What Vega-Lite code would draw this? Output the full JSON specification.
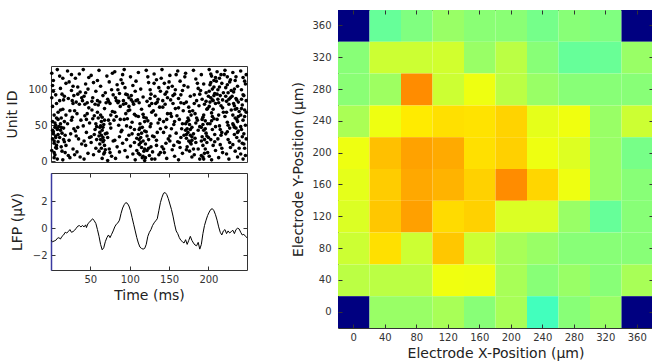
{
  "$schema": "https://vega.github.io/schema/vega-lite/v6.json",
  "padding": {"left": 5, "top": 9, "right": 0, "bottom": 0},
  "spacing": 41,
  "config": {
    "font": "DejaVu Sans",
    "view": {"stroke": "#333333", "strokeWidth": 1},
    "axis": {
      "grid": false,
      "domain": false,
      "labelFont": "DejaVu Sans",
      "labelFontSize": 10,
      "labelColor": "#333333",
      "titleFont": "DejaVu Sans",
      "titleFontSize": 14,
      "titleFontWeight": "normal",
      "titleColor": "#222222",
      "tickColor": "#333333",
      "tickSize": -4,
      "labelPadding": 8
    }
  },
  "datasets": {
    "spikes": [
      {"t":1,"u":122},{"t":2,"u":105},{"t":1,"u":88},{"t":3,"u":97},{"t":2,"u":76},{"t":4,"u":64},{"t":2,"u":55},{"t":5,"u":47},{"t":3,"u":41},{"t":6,"u":35},{"t":4,"u":28},{"t":7,"u":22},{"t":1,"u":15},{"t":5,"u":9},{"t":8,"u":3},{"t":3,"u":112},{"t":7,"u":80},{"t":9,"u":58},{"t":6,"u":50},{"t":8,"u":44},{"t":9,"u":37},{"t":2,"u":31},{"t":7,"u":18},{"t":4,"u":5},{"t":9,"u":68},{"t":6,"u":92},{"t":8,"u":127},
      {"t":4,"u":25},{"t":6,"u":33},{"t":3,"u":38},{"t":8,"u":46},{"t":5,"u":53},{"t":7,"u":60},{"t":2,"u":43},{"t":9,"u":27},{"t":6,"u":19},{"t":4,"u":12},
      {"t":11,"u":118},{"t":12,"u":101},{"t":14,"u":93},{"t":11,"u":84},{"t":15,"u":72},{"t":13,"u":60},{"t":12,"u":52},{"t":16,"u":46},{"t":14,"u":39},{"t":11,"u":33},{"t":17,"u":27},{"t":13,"u":20},{"t":18,"u":12},{"t":15,"u":2},{"t":19,"u":108},{"t":16,"u":85},{"t":19,"u":64},{"t":12,"u":43},{"t":18,"u":36},{"t":10,"u":48},{"t":17,"u":55},{"t":14,"u":14},
      {"t":13,"u":47},{"t":16,"u":30},{"t":19,"u":22},{"t":12,"u":71},{"t":17,"u":90},{"t":15,"u":115},
      {"t":21,"u":125},{"t":23,"u":110},{"t":26,"u":98},{"t":22,"u":87},{"t":28,"u":80},{"t":24,"u":70},{"t":27,"u":61},{"t":21,"u":52},{"t":29,"u":45},{"t":25,"u":38},{"t":23,"u":29},{"t":28,"u":17},{"t":22,"u":8},{"t":26,"u":120},{"t":29,"u":91},{"t":24,"u":5},
      {"t":27,"u":84},{"t":32,"u":35},{"t":34,"u":93},{"t":26,"u":57},{"t":30,"u":9},{"t":28,"u":104},
      {"t":31,"u":115},{"t":34,"u":103},{"t":37,"u":96},{"t":32,"u":82},{"t":36,"u":79},{"t":33,"u":66},{"t":38,"u":57},{"t":31,"u":42},{"t":35,"u":31},{"t":39,"u":24},{"t":33,"u":13},{"t":37,"u":6},{"t":36,"u":121},{"t":39,"u":88},{"t":30,"u":70},{"t":34,"u":47},
      {"t":41,"u":127},{"t":44,"u":107},{"t":47,"u":100},{"t":42,"u":90},{"t":46,"u":81},{"t":48,"u":74},{"t":43,"u":63},{"t":41,"u":49},{"t":45,"u":40},{"t":49,"u":33},{"t":44,"u":22},{"t":47,"u":11},{"t":42,"u":3},{"t":48,"u":116},{"t":40,"u":84},{"t":45,"u":58},
      {"t":43,"u":79},{"t":46,"u":66},{"t":49,"u":53},{"t":44,"u":95},{"t":42,"u":28},
      {"t":51,"u":119},{"t":54,"u":109},{"t":57,"u":97},{"t":52,"u":83},{"t":56,"u":79},{"t":59,"u":68},{"t":53,"u":59},{"t":58,"u":48},{"t":55,"u":37},{"t":51,"u":26},{"t":57,"u":18},{"t":54,"u":9},{"t":59,"u":112},{"t":52,"u":71},{"t":56,"u":44},{"t":58,"u":30},
      {"t":53,"u":88},{"t":55,"u":63},{"t":57,"u":52},{"t":51,"u":34},{"t":59,"u":84},
      {"t":61,"u":126},{"t":63,"u":104},{"t":66,"u":91},{"t":62,"u":82},{"t":68,"u":73},{"t":60,"u":60},{"t":64,"u":55},{"t":67,"u":51},{"t":62,"u":47},{"t":65,"u":43},{"t":69,"u":38},{"t":61,"u":35},{"t":63,"u":30},{"t":66,"u":27},{"t":68,"u":22},{"t":64,"u":18},{"t":61,"u":14},{"t":67,"u":10},{"t":65,"u":4},{"t":69,"u":95},{"t":60,"u":78},{"t":63,"u":64},{"t":66,"u":33},{"t":62,"u":24},{"t":68,"u":12},
      {"t":62,"u":40},{"t":64,"u":36},{"t":66,"u":47},{"t":68,"u":57},{"t":63,"u":49},{"t":65,"u":61},{"t":67,"u":29},{"t":69,"u":16},
      {"t":71,"u":118},{"t":74,"u":110},{"t":77,"u":99},{"t":72,"u":86},{"t":75,"u":80},{"t":78,"u":69},{"t":73,"u":57},{"t":76,"u":46},{"t":71,"u":39},{"t":79,"u":28},{"t":74,"u":17},{"t":77,"u":7},{"t":72,"u":1},{"t":78,"u":122},{"t":70,"u":81},{"t":75,"u":52},
      {"t":73,"u":83},{"t":76,"u":64},{"t":79,"u":92},{"t":72,"u":33},{"t":75,"u":12},
      {"t":81,"u":124},{"t":84,"u":106},{"t":87,"u":94},{"t":82,"u":88},{"t":85,"u":81},{"t":88,"u":76},{"t":83,"u":62},{"t":86,"u":50},{"t":89,"u":41},{"t":81,"u":29},{"t":84,"u":20},{"t":87,"u":13},{"t":82,"u":4},{"t":89,"u":113},{"t":86,"u":83},{"t":80,"u":57},
      {"t":83,"u":84},{"t":85,"u":99},{"t":88,"u":58},{"t":81,"u":68},{"t":87,"u":34},
      {"t":91,"u":120},{"t":94,"u":102},{"t":97,"u":92},{"t":92,"u":84},{"t":95,"u":80},{"t":98,"u":70},{"t":93,"u":58},{"t":96,"u":49},{"t":99,"u":36},{"t":91,"u":25},{"t":94,"u":15},{"t":97,"u":6},{"t":93,"u":127},{"t":99,"u":88},{"t":90,"u":43},{"t":95,"u":66},
      {"t":92,"u":79},{"t":95,"u":93},{"t":97,"u":59},{"t":99,"u":76},{"t":91,"u":108},{"t":96,"u":30},
      {"t":101,"u":117},{"t":104,"u":105},{"t":107,"u":97},{"t":102,"u":85},{"t":105,"u":79},{"t":108,"u":63},{"t":103,"u":54},{"t":106,"u":44},{"t":109,"u":32},{"t":101,"u":21},{"t":104,"u":10},{"t":107,"u":2},{"t":100,"u":71},{"t":108,"u":111},{"t":103,"u":38},{"t":106,"u":26},
      {"t":102,"u":91},{"t":104,"u":82},{"t":106,"u":65},{"t":108,"u":84},{"t":101,"u":47},{"t":109,"u":15},
      {"t":111,"u":123},{"t":114,"u":100},{"t":117,"u":89},{"t":112,"u":81},{"t":115,"u":72},{"t":118,"u":61},{"t":113,"u":52},{"t":116,"u":47},{"t":119,"u":42},{"t":111,"u":37},{"t":114,"u":33},{"t":117,"u":28},{"t":112,"u":23},{"t":115,"u":19},{"t":118,"u":14},{"t":113,"u":9},{"t":116,"u":5},{"t":119,"u":1},{"t":110,"u":85},{"t":117,"u":65},{"t":112,"u":44},{"t":114,"u":26},{"t":119,"u":17},{"t":111,"u":11},
      {"t":112,"u":30},{"t":115,"u":39},{"t":117,"u":7},{"t":113,"u":46},{"t":119,"u":55},{"t":111,"u":62},
      {"t":121,"u":126},{"t":124,"u":109},{"t":127,"u":93},{"t":122,"u":83},{"t":125,"u":77},{"t":128,"u":68},{"t":123,"u":56},{"t":126,"u":48},{"t":121,"u":41},{"t":129,"u":35},{"t":124,"u":30},{"t":120,"u":24},{"t":127,"u":20},{"t":122,"u":15},{"t":125,"u":8},{"t":128,"u":3},{"t":123,"u":117},{"t":126,"u":87},{"t":121,"u":60},{"t":129,"u":13},
      {"t":122,"u":35},{"t":124,"u":18},{"t":127,"u":52},{"t":128,"u":80},{"t":126,"u":99},{"t":120,"u":5},
      {"t":131,"u":121},{"t":134,"u":113},{"t":137,"u":102},{"t":132,"u":90},{"t":135,"u":82},{"t":138,"u":75},{"t":133,"u":64},{"t":136,"u":53},{"t":139,"u":45},{"t":131,"u":34},{"t":134,"u":22},{"t":137,"u":9},{"t":132,"u":3},{"t":139,"u":97},{"t":130,"u":70},{"t":135,"u":40},
      {"t":133,"u":80},{"t":136,"u":86},{"t":138,"u":58},{"t":131,"u":108},{"t":134,"u":29},{"t":139,"u":12},
      {"t":141,"u":127},{"t":144,"u":108},{"t":147,"u":96},{"t":142,"u":84},{"t":145,"u":79},{"t":148,"u":66},{"t":143,"u":55},{"t":146,"u":47},{"t":149,"u":31},{"t":141,"u":20},{"t":144,"u":12},{"t":147,"u":4},{"t":140,"u":115},{"t":148,"u":88},{"t":143,"u":40},{"t":146,"u":25},
      {"t":142,"u":75},{"t":145,"u":93},{"t":147,"u":58},{"t":149,"u":102},{"t":143,"u":17},
      {"t":151,"u":119},{"t":154,"u":104},{"t":157,"u":93},{"t":152,"u":85},{"t":155,"u":80},{"t":158,"u":73},{"t":153,"u":62},{"t":156,"u":51},{"t":159,"u":39},{"t":151,"u":28},{"t":154,"u":16},{"t":157,"u":7},{"t":150,"u":110},{"t":158,"u":99},{"t":153,"u":45},{"t":156,"u":22},
      {"t":152,"u":66},{"t":155,"u":91},{"t":157,"u":55},{"t":159,"u":120},{"t":151,"u":35},
      {"t":161,"u":125},{"t":164,"u":111},{"t":167,"u":98},{"t":162,"u":87},{"t":165,"u":81},{"t":168,"u":70},{"t":163,"u":58},{"t":166,"u":45},{"t":169,"u":36},{"t":161,"u":27},{"t":164,"u":19},{"t":167,"u":11},{"t":162,"u":2},{"t":169,"u":105},{"t":160,"u":63},{"t":165,"u":33},
      {"t":162,"u":74},{"t":165,"u":92},{"t":167,"u":52},{"t":169,"u":80},{"t":163,"u":26},
      {"t":171,"u":122},{"t":174,"u":103},{"t":177,"u":90},{"t":172,"u":82},{"t":175,"u":75},{"t":178,"u":64},{"t":173,"u":55},{"t":176,"u":51},{"t":179,"u":47},{"t":171,"u":43},{"t":174,"u":40},{"t":177,"u":36},{"t":172,"u":32},{"t":175,"u":28},{"t":178,"u":24},{"t":173,"u":20},{"t":176,"u":14},{"t":179,"u":6},{"t":170,"u":117},{"t":174,"u":60},{"t":177,"u":44},{"t":172,"u":37},{"t":179,"u":29},
      {"t":171,"u":52},{"t":173,"u":45},{"t":175,"u":57},{"t":177,"u":26},{"t":179,"u":34},{"t":172,"u":16},{"t":176,"u":69},
      {"t":181,"u":126},{"t":184,"u":114},{"t":187,"u":101},{"t":182,"u":92},{"t":185,"u":84},{"t":188,"u":77},{"t":183,"u":66},{"t":186,"u":57},{"t":189,"u":48},{"t":181,"u":38},{"t":184,"u":26},{"t":187,"u":17},{"t":182,"u":9},{"t":189,"u":3},{"t":180,"u":70},{"t":186,"u":108},{"t":183,"u":32},
      {"t":182,"u":80},{"t":185,"u":60},{"t":187,"u":43},{"t":189,"u":93},{"t":181,"u":17},{"t":184,"u":53},
      {"t":191,"u":120},{"t":194,"u":107},{"t":197,"u":95},{"t":192,"u":86},{"t":195,"u":79},{"t":198,"u":72},{"t":193,"u":61},{"t":196,"u":56},{"t":199,"u":52},{"t":191,"u":47},{"t":194,"u":43},{"t":197,"u":39},{"t":192,"u":34},{"t":195,"u":30},{"t":198,"u":26},{"t":193,"u":22},{"t":196,"u":17},{"t":199,"u":12},{"t":191,"u":8},{"t":194,"u":3},{"t":190,"u":98},{"t":197,"u":83},{"t":193,"u":51},{"t":195,"u":11},
      {"t":192,"u":58},{"t":194,"u":64},{"t":196,"u":45},{"t":198,"u":35},{"t":191,"u":28},{"t":193,"u":6},{"t":199,"u":73},
      {"t":201,"u":127},{"t":204,"u":118},{"t":207,"u":112},{"t":202,"u":106},{"t":205,"u":100},{"t":208,"u":94},{"t":203,"u":88},{"t":206,"u":84},{"t":209,"u":80},{"t":201,"u":76},{"t":204,"u":67},{"t":207,"u":59},{"t":202,"u":52},{"t":205,"u":44},{"t":208,"u":37},{"t":203,"u":30},{"t":206,"u":22},{"t":209,"u":15},{"t":201,"u":7},{"t":204,"u":2},{"t":200,"u":90},{"t":207,"u":103},{"t":203,"u":121},{"t":205,"u":62},{"t":209,"u":48},
      {"t":201,"u":97},{"t":203,"u":109},{"t":205,"u":85},{"t":207,"u":91},{"t":209,"u":116},{"t":202,"u":82},{"t":204,"u":56},{"t":206,"u":72},{"t":208,"u":27},{"t":200,"u":33},
      {"t":211,"u":124},{"t":214,"u":115},{"t":217,"u":108},{"t":212,"u":99},{"t":215,"u":91},{"t":218,"u":85},{"t":213,"u":81},{"t":216,"u":77},{"t":219,"u":68},{"t":211,"u":58},{"t":214,"u":49},{"t":217,"u":40},{"t":212,"u":31},{"t":215,"u":23},{"t":218,"u":12},{"t":213,"u":5},{"t":210,"u":111},{"t":219,"u":95},{"t":216,"u":36},
      {"t":212,"u":86},{"t":214,"u":103},{"t":216,"u":120},{"t":218,"u":74},{"t":211,"u":93},{"t":213,"u":64},{"t":215,"u":44},{"t":217,"u":18},
      {"t":221,"u":126},{"t":224,"u":117},{"t":227,"u":110},{"t":222,"u":102},{"t":225,"u":95},{"t":228,"u":88},{"t":223,"u":83},{"t":226,"u":79},{"t":229,"u":71},{"t":221,"u":62},{"t":224,"u":54},{"t":227,"u":46},{"t":222,"u":38},{"t":225,"u":30},{"t":228,"u":19},{"t":223,"u":10},{"t":226,"u":3},{"t":220,"u":120},{"t":229,"u":98},{"t":224,"u":41},
      {"t":222,"u":90},{"t":224,"u":106},{"t":226,"u":86},{"t":228,"u":113},{"t":223,"u":68},{"t":225,"u":50},{"t":227,"u":26},
      {"t":231,"u":123},{"t":234,"u":112},{"t":237,"u":104},{"t":232,"u":96},{"t":235,"u":87},{"t":238,"u":82},{"t":233,"u":77},{"t":236,"u":73},{"t":239,"u":69},{"t":231,"u":64},{"t":234,"u":60},{"t":237,"u":55},{"t":232,"u":50},{"t":235,"u":46},{"t":238,"u":42},{"t":233,"u":37},{"t":236,"u":33},{"t":239,"u":28},{"t":231,"u":23},{"t":234,"u":14},{"t":237,"u":6},{"t":230,"u":90},{"t":236,"u":58},{"t":233,"u":47},
      {"t":232,"u":80},{"t":234,"u":72},{"t":236,"u":85},{"t":238,"u":62},{"t":231,"u":52},{"t":233,"u":100},{"t":235,"u":117},{"t":237,"u":40},{"t":239,"u":18},
      {"t":241,"u":125},{"t":244,"u":116},{"t":247,"u":107},{"t":242,"u":99},{"t":245,"u":91},{"t":248,"u":84},{"t":243,"u":78},{"t":246,"u":71},{"t":241,"u":64},{"t":244,"u":57},{"t":247,"u":50},{"t":242,"u":44},{"t":245,"u":38},{"t":248,"u":31},{"t":243,"u":25},{"t":246,"u":18},{"t":241,"u":10},{"t":244,"u":3},{"t":248,"u":120},{"t":242,"u":86},{"t":246,"u":62},
      {"t":242,"u":73},{"t":244,"u":92},{"t":246,"u":111},{"t":248,"u":68},{"t":241,"u":48},{"t":243,"u":34},{"t":245,"u":24},{"t":247,"u":8}
    ],
    "lfp": [
      {"t":0,"v":-0.9},{"t":2,"v":-1.0},{"t":4,"v":-0.95},{"t":6,"v":-0.9},{"t":8,"v":-0.75},{"t":10,"v":-0.7},{"t":12,"v":-0.8},{"t":14,"v":-0.6},{"t":16,"v":-0.5},{"t":18,"v":-0.3},{"t":20,"v":-0.35},{"t":22,"v":-0.25},{"t":24,"v":-0.1},{"t":26,"v":-0.3},{"t":28,"v":-0.25},{"t":30,"v":-0.15},{"t":32,"v":0.0},{"t":34,"v":0.15},{"t":36,"v":0.2},{"t":38,"v":0.1},{"t":40,"v":0.2},{"t":42,"v":0.1},{"t":44,"v":0.25},{"t":45,"v":0.05},{"t":47,"v":0.35},{"t":49,"v":0.45},{"t":51,"v":0.6},{"t":53,"v":0.7},{"t":55,"v":0.55},{"t":57,"v":0.35},{"t":59,"v":-0.1},{"t":61,"v":-0.6},{"t":63,"v":-1.2},{"t":65,"v":-1.6},{"t":67,"v":-1.45},{"t":69,"v":-1.0},{"t":71,"v":-0.7},{"t":73,"v":-0.5},{"t":75,"v":-0.7},{"t":77,"v":-0.45},{"t":79,"v":-0.2},{"t":81,"v":0.1},{"t":83,"v":0.3},{"t":85,"v":0.4},{"t":87,"v":0.6},{"t":89,"v":1.1},{"t":91,"v":1.5},{"t":93,"v":1.75},{"t":95,"v":1.9},{"t":97,"v":1.85},{"t":99,"v":1.65},{"t":101,"v":1.3},{"t":103,"v":0.8},{"t":105,"v":0.3},{"t":107,"v":-0.2},{"t":109,"v":-0.7},{"t":111,"v":-1.1},{"t":113,"v":-1.4},{"t":115,"v":-1.5},{"t":117,"v":-1.55},{"t":119,"v":-1.5},{"t":121,"v":-1.2},{"t":123,"v":-0.6},{"t":125,"v":-0.3},{"t":127,"v":-0.1},{"t":129,"v":0.2},{"t":131,"v":0.4},{"t":133,"v":0.55},{"t":135,"v":0.7},{"t":137,"v":1.3},{"t":139,"v":1.9},{"t":141,"v":2.3},{"t":143,"v":2.6},{"t":145,"v":2.65},{"t":147,"v":2.5},{"t":149,"v":2.2},{"t":151,"v":1.8},{"t":153,"v":1.4},{"t":155,"v":0.9},{"t":157,"v":0.3},{"t":159,"v":-0.2},{"t":161,"v":-0.4},{"t":163,"v":-0.7},{"t":165,"v":-0.9},{"t":167,"v":-1.0},{"t":169,"v":-1.1},{"t":171,"v":-0.85},{"t":173,"v":-1.2},{"t":175,"v":-0.9},{"t":177,"v":-0.6},{"t":179,"v":-0.9},{"t":181,"v":-1.1},{"t":183,"v":-1.25},{"t":185,"v":-1.3},{"t":187,"v":-1.05},{"t":189,"v":-1.55},{"t":191,"v":-1.2},{"t":193,"v":-0.4},{"t":195,"v":0.2},{"t":197,"v":0.6},{"t":199,"v":0.95},{"t":201,"v":1.2},{"t":203,"v":1.4},{"t":205,"v":1.45},{"t":207,"v":1.3},{"t":209,"v":1.0},{"t":211,"v":0.6},{"t":213,"v":0.1},{"t":215,"v":-0.3},{"t":217,"v":-0.5},{"t":219,"v":-0.2},{"t":221,"v":-0.1},{"t":223,"v":-0.4},{"t":225,"v":-0.2},{"t":227,"v":-0.35},{"t":229,"v":-0.25},{"t":231,"v":-0.15},{"t":233,"v":-0.4},{"t":235,"v":-0.1},{"t":237,"v":0.0},{"t":239,"v":-0.05},{"t":241,"v":-0.3},{"t":243,"v":-0.5},{"t":245,"v":-0.45},{"t":247,"v":-0.6},{"t":249,"v":-0.7}
    ],
    "grid": [
      {"x":0,"y":360,"v":0},{"x":40,"y":360,"v":0.475},{"x":80,"y":360,"v":0.5},{"x":120,"y":360,"v":0.525},{"x":160,"y":360,"v":0.51},{"x":200,"y":360,"v":0.51},{"x":240,"y":360,"v":0.49},{"x":280,"y":360,"v":0.508},{"x":320,"y":360,"v":0.5},{"x":360,"y":360,"v":0},
      {"x":0,"y":320,"v":0.508},{"x":40,"y":320,"v":0.575},{"x":80,"y":320,"v":0.575},{"x":120,"y":320,"v":0.58},{"x":160,"y":320,"v":0.525},{"x":200,"y":320,"v":0.558},{"x":240,"y":320,"v":0.508},{"x":280,"y":320,"v":0.475},{"x":320,"y":320,"v":0.478},{"x":360,"y":320,"v":0.525},
      {"x":0,"y":280,"v":0.51},{"x":40,"y":280,"v":0.53},{"x":80,"y":280,"v":0.738},{"x":120,"y":280,"v":0.575},{"x":160,"y":280,"v":0.608},{"x":200,"y":280,"v":0.558},{"x":240,"y":280,"v":0.525},{"x":280,"y":280,"v":0.508},{"x":320,"y":280,"v":0.508},{"x":360,"y":280,"v":0.508},
      {"x":0,"y":240,"v":0.542},{"x":40,"y":240,"v":0.608},{"x":80,"y":240,"v":0.645},{"x":120,"y":240,"v":0.655},{"x":160,"y":240,"v":0.652},{"x":200,"y":240,"v":0.668},{"x":240,"y":240,"v":0.6},{"x":280,"y":240,"v":0.61},{"x":320,"y":240,"v":0.525},{"x":360,"y":240,"v":0.575},
      {"x":0,"y":200,"v":0.608},{"x":40,"y":200,"v":0.687},{"x":80,"y":200,"v":0.716},{"x":120,"y":200,"v":0.708},{"x":160,"y":200,"v":0.655},{"x":200,"y":200,"v":0.671},{"x":240,"y":200,"v":0.608},{"x":280,"y":200,"v":0.592},{"x":320,"y":200,"v":0.525},{"x":360,"y":200,"v":0.492},
      {"x":0,"y":160,"v":0.6},{"x":40,"y":160,"v":0.675},{"x":80,"y":160,"v":0.71},{"x":120,"y":160,"v":0.7},{"x":160,"y":160,"v":0.67},{"x":200,"y":160,"v":0.738},{"x":240,"y":160,"v":0.665},{"x":280,"y":160,"v":0.608},{"x":320,"y":160,"v":0.525},{"x":360,"y":160,"v":0.508},
      {"x":0,"y":120,"v":0.59},{"x":40,"y":120,"v":0.68},{"x":80,"y":120,"v":0.718},{"x":120,"y":120,"v":0.66},{"x":160,"y":120,"v":0.67},{"x":200,"y":120,"v":0.59},{"x":240,"y":120,"v":0.59},{"x":280,"y":120,"v":0.525},{"x":320,"y":120,"v":0.475},{"x":360,"y":120,"v":0.508},
      {"x":0,"y":80,"v":0.575},{"x":40,"y":80,"v":0.655},{"x":80,"y":80,"v":0.575},{"x":120,"y":80,"v":0.68},{"x":160,"y":80,"v":0.575},{"x":200,"y":80,"v":0.54},{"x":240,"y":80,"v":0.525},{"x":280,"y":80,"v":0.508},{"x":320,"y":80,"v":0.508},{"x":360,"y":80,"v":0.508},
      {"x":0,"y":40,"v":0.558},{"x":40,"y":40,"v":0.558},{"x":80,"y":40,"v":0.558},{"x":120,"y":40,"v":0.61},{"x":160,"y":40,"v":0.608},{"x":200,"y":40,"v":0.54},{"x":240,"y":40,"v":0.508},{"x":280,"y":40,"v":0.525},{"x":320,"y":40,"v":0.508},{"x":360,"y":40,"v":0.54},
      {"x":0,"y":0,"v":0},{"x":40,"y":0,"v":0.525},{"x":80,"y":0,"v":0.525},{"x":120,"y":0,"v":0.54},{"x":160,"y":0,"v":0.508},{"x":200,"y":0,"v":0.54},{"x":240,"y":0,"v":0.44},{"x":280,"y":0,"v":0.508},{"x":320,"y":0,"v":0.525},{"x":360,"y":0,"v":0}
    ]
  },
  "hconcat": [
    {
      "spacing": 5,
      "vconcat": [
        {
          "width": 196,
          "height": 50,
          "view": {"stroke": null},
          "data": {"values": [{}]},
          "mark": {"type": "point", "opacity": 0},
          "encoding": {}
        },
        {
          "width": 196,
          "height": 96,
          "data": {"name": "spikes"},
          "mark": {"type": "circle", "size": 13, "color": "black", "opacity": 1},
          "encoding": {
            "x": {"field": "t", "type": "quantitative", "scale": {"domain": [0, 249], "nice": false, "zero": false}, "axis": null},
            "y": {"field": "u", "type": "quantitative", "scale": {"domain": [-1, 132], "nice": false, "zero": false},
                  "axis": {"values": [0, 50, 100], "title": "Unit ID", "titlePadding": 8}}
          }
        },
        {
          "width": 196,
          "height": 97,
          "data": {"name": "lfp"},
          "layer": [
            {
              "mark": {"type": "line", "color": "black", "strokeWidth": 1},
              "encoding": {
                "x": {"field": "t", "type": "quantitative", "scale": {"domain": [0, 249], "nice": false, "zero": false},
                      "axis": {"values": [50, 100, 150, 200], "title": "Time (ms)", "titlePadding": 4}},
                "y": {"field": "v", "type": "quantitative", "scale": {"domain": [-3.1, 4.1], "nice": false, "zero": false},
                      "axis": {"values": [-2, 0, 2], "title": "LFP (μV)", "titlePadding": 8, "domain": true, "domainColor": "#3a3aa0", "domainWidth": 1.5}}
              }
            },
            {
              "mark": {"type": "line", "opacity": 0},
              "encoding": {
                "x": {"field": "t", "type": "quantitative",
                      "axis": {"orient": "top", "values": [50, 100, 150, 200], "labels": false, "title": null}},
                "y": {"field": "v", "type": "quantitative",
                      "axis": {"orient": "right", "values": [-2, 0, 2], "labels": false, "title": null}}
              }
            }
          ],
          "resolve": {"axis": {"x": "independent", "y": "independent"}}
        }
      ]
    },
    {
      "width": 315,
      "height": 318,
      "data": {"name": "grid"},
      "layer": [
        {
          "mark": {"type": "rect"},
          "encoding": {
            "x": {"field": "x", "type": "ordinal",
                  "scale": {"domain": [0, 40, 80, 120, 160, 200, 240, 280, 320, 360], "paddingInner": 0, "paddingOuter": 0},
                  "axis": {"labelAngle": 0, "title": "Electrode X-Position (μm)", "titlePadding": 4}},
            "y": {"field": "y", "type": "ordinal",
                  "scale": {"domain": [360, 320, 280, 240, 200, 160, 120, 80, 40, 0], "paddingInner": 0, "paddingOuter": 0},
                  "axis": {"title": "Electrode Y-Position (μm)", "titlePadding": 6, "labelPadding": 11}},
            "color": {"field": "v", "type": "quantitative",
                      "scale": {"domain": [0, 0.125, 0.375, 0.625, 0.875, 1],
                                "range": ["#000080", "#0000ff", "#00ffff", "#ffff00", "#ff0000", "#800000"],
                                "interpolate": "rgb"},
                      "legend": null}
          }
        },
        {
          "mark": {"type": "rect", "opacity": 0},
          "encoding": {
            "x": {"field": "x", "type": "ordinal", "axis": {"orient": "top", "labels": false, "title": null}},
            "y": {"field": "y", "type": "ordinal", "axis": {"orient": "right", "labels": false, "title": null}}
          }
        }
      ],
      "resolve": {"axis": {"x": "independent", "y": "independent"}}
    }
  ]
}
